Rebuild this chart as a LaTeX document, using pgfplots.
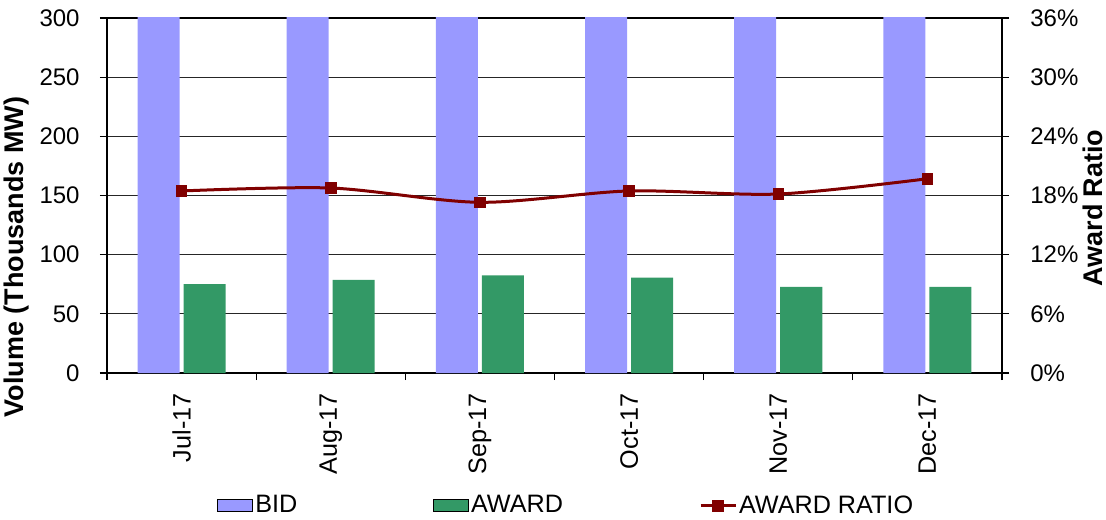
\documentclass[border=0pt]{standalone}
\usepackage{pgfplots}
\pgfplotsset{compat=1.18}
\usepackage{fontspec}
\setmainfont{Liberation Sans}
\definecolor{bidc}{HTML}{9999FF}
\definecolor{awdc}{HTML}{339966}
\definecolor{ratc}{HTML}{800000}
\pgfplotsset{
  patchlegend/.style={legend image code/.code={\fill[##1] (0pt,-3pt) rectangle (17.5pt,3pt);}},
  lineleg/.style={legend image code/.code={\draw[mark repeat=2,mark phase=2,##1] plot coordinates {(0pt,0pt) (8.75pt,0pt) (17.5pt,0pt)};}},
  myaxis/.style={
    scale only axis, width=447.5pt, height=177.5pt,
    at={(0,0)}, anchor=south west,
    xmin=-0.5, xmax=5.5,
    tick align=outside,
    major tick length=3.5pt,
    /pgf/number format/assume math mode=true,
    tick label style={font=\fontsize{12}{14}\selectfont, black},
    label style={font=\fontsize{13.5}{16}\selectfont\bfseries},
    axis line style={black, line width=0.6pt},
    every tick/.style={black, line width=0.6pt},
  }
}
\begin{document}
\begin{tikzpicture}
\useasboundingbox (-53.5pt,-73pt) rectangle (499.5pt,186.5pt);
\clip (-53.5pt,-73pt) rectangle (499.5pt,186.5pt);
\begin{axis}[myaxis,
  ymin=0, ymax=300,
  ytick={0,50,...,300},
  tick pos=left,
  xtick={-0.5,0.5,...,5.5},
  xticklabels={,,,,,,,},
  extra x ticks={0,1,2,3,4,5},
  extra x tick labels={Jul-17,Aug-17,Sep-17,Oct-17,Nov-17,Dec-17},
  extra x tick style={major tick length=0pt, xticklabel shift=10pt,
    xticklabel style={rotate=90, anchor=east, inner sep=0pt, font=\fontsize{12.6}{14}\selectfont}},
  major tick length=3.5pt,
  yticklabel shift=10pt,
  yticklabel style={inner sep=0pt},
  ymajorgrids,
  major grid style={draw=black!85, line width=0.5pt},
  ybar=2pt, bar width=21pt,
  ylabel={Volume (Thousands MW)},
  ylabel style={at={(axis description cs:-0.1011,0.327)}, anchor=center},
]
\addplot[fill=bidc, draw=none] coordinates {(0,407) (1,419) (2,477) (3,436) (4,400) (5,369)};
\addplot[fill=awdc, draw=none] coordinates {(0,75.2) (1,78.6) (2,82.6) (3,80.5) (4,72.7) (5,72.7)};
\end{axis}
\begin{axis}[myaxis,
  ymin=0, ymax=36,
  ytick={0,6,...,36},
  axis x line=none,
  axis y line*=right,
  yticklabel={\pgfmathprintnumber{\tick}\%},
  yticklabel shift=10.5pt,
  yticklabel style={inner sep=0pt},
  ylabel={Award Ratio},
  ylabel style={at={(axis description cs:1.1012,0.4648)}, anchor=center},
  legend columns=3,
  legend style={at={(axis description cs:0.123,-0.374)}, anchor=west, draw=none, fill=none,
    inner sep=0pt, font=\fontsize{12.6}{14}\selectfont,
    nodes={inner xsep=1pt, inner ysep=1pt},
    /tikz/every even column/.append style={column sep=67pt}},
]
\addlegendimage{patchlegend, fill=bidc}
\addlegendentry{BID}
\addlegendimage{patchlegend, fill=awdc}
\addlegendentry{AWARD}
\addplot[lineleg, ratc, line width=1.5pt, smooth, mark=square*, mark size=2.6pt,
  mark options={solid, line width=0.4pt, fill=ratc}]
  coordinates {(0,18.46) (1,18.76) (2,17.31) (3,18.46) (4,18.15) (5,19.70)};
\addlegendentry{AWARD RATIO}
\end{axis}
\end{tikzpicture}
\end{document}
